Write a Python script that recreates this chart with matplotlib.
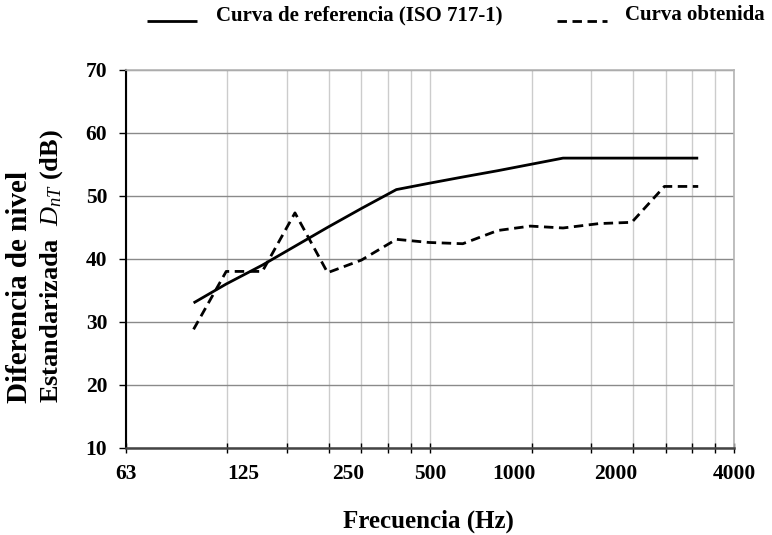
import matplotlib
matplotlib.use("Agg")
import matplotlib.pyplot as plt
from matplotlib.ticker import FixedLocator, FixedFormatter, NullFormatter

# bandas de tercio de octava (Hz)
freqs = [100, 125, 160, 200, 250, 315, 400, 500, 630, 800, 1000, 1250, 1600, 2000, 2500, 3150]
# curva de referencia ISO 717-1 desplazada
ref_curve = [33, 36, 39, 42, 45, 48, 51, 52, 53, 54, 55, 56, 56, 56, 56, 56]
# curva medida
obt_curve = [28.8, 38.0, 38.0, 47.3, 37.8, 39.8, 43.1, 42.6, 42.4, 44.5, 45.2, 44.9, 45.6, 45.8, 51.5, 51.5]

x_labels = ["63", "125", "250", "500", "1000", "2000", "4000"]
x_label_pos = [63, 140, 287, 504, 896, 1793, 4032]   # donde estaban las etiquetas en el original
y_ticks = [10, 20, 30, 40, 50, 60, 70]

plt.rcParams["font.family"] = "Liberation Serif"
plt.rcParams["font.weight"] = "bold"
plt.rcParams["mathtext.fontset"] = "custom"
plt.rcParams["mathtext.rm"] = "Liberation Serif:weight=normal"
plt.rcParams["mathtext.it"] = "Liberation Serif:style=italic:weight=normal"

fig = plt.figure(figsize=(7.72, 5.35), dpi=100)
ax = fig.add_axes([0.1632, 0.1632, 0.788, 0.706])

ax.set_xscale("log")
ax.set_xlim(63, 4032)
ax.set_ylim(10, 70)

# rejilla vertical tipo excel (log base 8 con divisiones menores)
grid_x = [63 * k for k in range(1, 9)] + [504 * k for k in range(2, 9)]
ax.xaxis.remove_overlapping_locs = False
ax.xaxis.set_major_locator(FixedLocator(grid_x))
ax.xaxis.set_major_formatter(NullFormatter())
ax.xaxis.set_minor_locator(FixedLocator(x_label_pos))
ax.xaxis.set_minor_formatter(FixedFormatter(x_labels))
ax.tick_params(axis="x", which="major", direction="inout", length=7, width=1, color="black")
ax.tick_params(axis="x", which="minor", length=0, pad=12, labelsize=15.5)
ax.set_yticks(y_ticks)
ax.tick_params(axis="y", direction="out", length=5, width=1, labelsize=15.5, pad=8.5)

ax.grid(True, axis="x", which="major", color="#cccccc", lw=1)
ax.grid(True, axis="y", color="#8a8a8a", lw=1)
ax.set_axisbelow(True)

for s in ["top", "right"]:
    ax.spines[s].set_color("#b4b4b4")
    ax.spines[s].set_linewidth(1.2)
ax.spines["left"].set_linewidth(1.5)
ax.spines["bottom"].set_color("#444444")
ax.spines["bottom"].set_linewidth(1.8)

l1, = ax.plot(freqs, ref_curve, color="black", lw=2.0, solid_capstyle="butt")
l2, = ax.plot(freqs, obt_curve, color="black", lw=2.0, dashes=(3.4, 2.0))

leg = fig.legend([l1, l2], ["Curva de referencia (ISO 717-1)", "Curva obtenida"],
                 loc="upper center", bbox_to_anchor=(0.591, 1.025), ncol=2, frameon=False,
                 fontsize=15, handlelength=2.4, handletextpad=0.87, columnspacing=2.65)
# las muestras de linea van a la altura de la base del texto
for h in leg.get_lines():
    h.set_ydata([v - 5.5 for v in h.get_ydata()])

fig.text(0.5545, 1 - 521 / 535, "Frecuencia (Hz)", ha="center", va="center", fontsize=18)
fig.text(19.5 / 772, 1 - 403 / 535, "Diferencia de nivel",
         rotation=90, ha="center", va="bottom", fontsize=21)
fig.text(52 / 772, 1 - 403 / 535, "Estandarizada  $D_{nT}$ (dB)",
         rotation=90, ha="center", va="bottom", fontsize=19)

fig.savefig("out.png", dpi=100)
